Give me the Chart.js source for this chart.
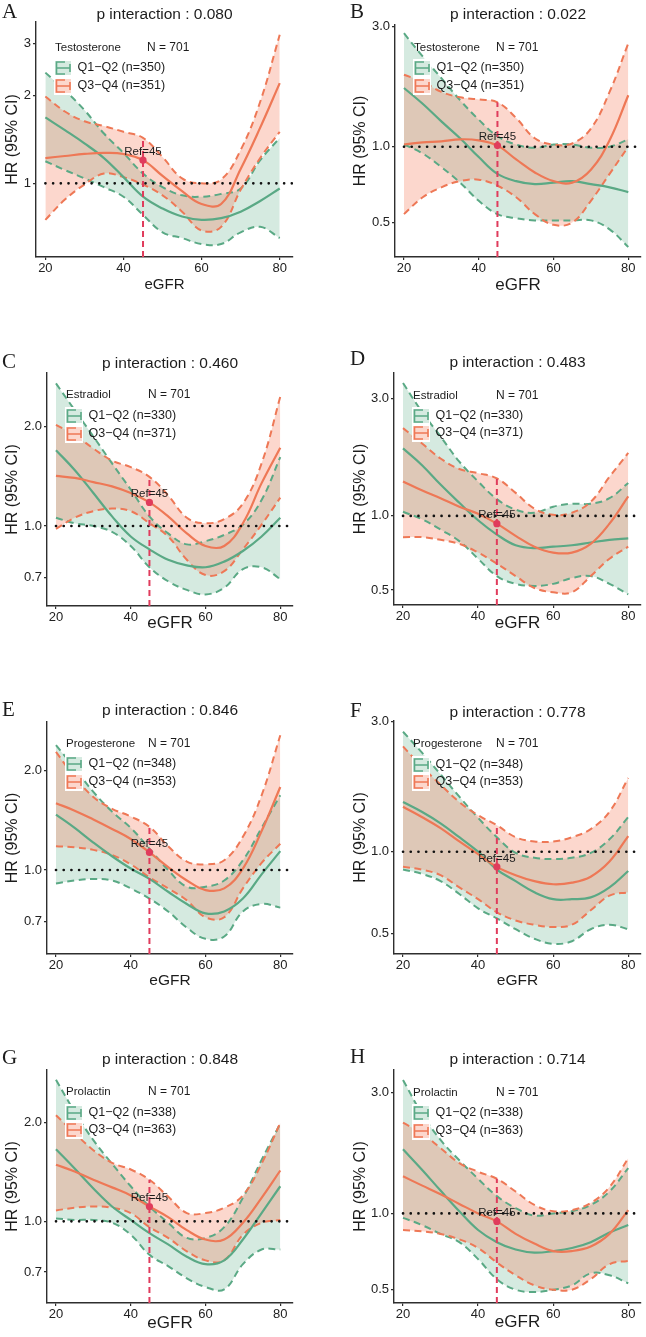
<!DOCTYPE html>
<html lang="en">
<head>
<meta charset="UTF-8">
<title>HR by eGFR, hormone subgroups</title>
<script src="https://cdn.jsdelivr.net/npm/chart.js@4.4.1/dist/chart.umd.min.js"></script>
<style>
  * { margin: 0; padding: 0; box-sizing: border-box; }
  body { width: 646px; height: 1337px; background: #fff; position: relative; overflow: hidden; }
  canvas { position: absolute; }
</style>
</head>
<body>
<script>
// ---- data ----
const eGFR = [20, 25, 30, 35, 40, 45, 50, 55, 60, 65, 70, 75, 80];
const refEGFR = 45;
const xTicks = [20, 40, 60, 80];
const panelLetters = ['A', 'B', 'C', 'D', 'E', 'F', 'G', 'H'];
const hormones = ['Testosterone', 'Testosterone', 'Estradiol', 'Estradiol', 'Progesterone', 'Progesterone', 'Prolactin', 'Prolactin'];
const pValues = ['0.080', '0.022', '0.460', '0.483', '0.846', '0.778', '0.848', '0.714'];
const totalN = 701;
const lowN = [350, 350, 330, 330, 348, 348, 338, 338];
const highN = [351, 351, 371, 371, 353, 353, 363, 363];
const yTicks = [[1, 2, 3], [0.5, 1, 3], [0.7, 1, 2], [0.5, 1, 3], [0.7, 1, 2], [0.5, 1, 3], [0.7, 1, 2], [0.5, 1, 3]];
const yTickLabels = [['1', '2', '3'], ['0.5', '1.0', '3.0'], ['0.7', '1.0', '2.0'], ['0.5', '1.0', '3.0'],
                     ['0.7', '1.0', '2.0'], ['0.5', '1.0', '3.0'], ['0.7', '1.0', '2.0'], ['0.5', '1.0', '3.0']];
const yMin = [0.56, 0.365, 0.572, 0.435, 0.558, 0.422, 0.563, 0.443];
const yMax = [3.56, 3.04, 2.915, 3.80, 2.795, 3.01, 2.90, 3.68];

// A - Testosterone
const q12HrA = [1.68, 1.52, 1.37, 1.22, 1.05, 0.90, 0.82, 0.77, 0.75, 0.76, 0.80, 0.87, 0.96];
const q12LoA = [1.19, 1.11, 1.04, 0.97, 0.90, 0.78, 0.68, 0.65, 0.62, 0.62, 0.68, 0.71, 0.65];
const q12HiA = [2.39, 2.08, 1.78, 1.48, 1.27, 1.08, 0.97, 0.91, 0.90, 0.92, 0.96, 1.20, 1.43];
const q34HrA = [1.22, 1.24, 1.26, 1.27, 1.26, 1.20, 1.06, 0.94, 0.85, 0.85, 1.12, 1.55, 2.20];
const q34LoA = [0.75, 0.88, 0.99, 1.08, 1.05, 0.99, 0.91, 0.80, 0.69, 0.71, 0.95, 1.22, 1.50];
const q34HiA = [1.98, 1.76, 1.63, 1.57, 1.50, 1.43, 1.23, 1.04, 1.00, 1.03, 1.30, 1.90, 3.22];
// B - Testosterone
const q12HrB = [1.71, 1.48, 1.26, 1.08, 0.91, 0.78, 0.73, 0.71, 0.72, 0.73, 0.71, 0.69, 0.66];
const q12LoB = [1.02, 0.94, 0.83, 0.72, 0.61, 0.54, 0.52, 0.51, 0.51, 0.51, 0.51, 0.47, 0.40];
const q12HiB = [2.82, 2.28, 1.87, 1.53, 1.28, 1.10, 1.02, 0.99, 1.02, 1.02, 0.99, 1.00, 1.07];
const q34HrB = [1.02, 1.04, 1.05, 1.07, 1.06, 1.01, 0.89, 0.79, 0.73, 0.72, 0.81, 1.06, 1.60];
const q34LoB = [0.54, 0.63, 0.69, 0.73, 0.74, 0.70, 0.63, 0.54, 0.49, 0.50, 0.61, 0.78, 1.00];
const q34HiB = [1.93, 1.81, 1.65, 1.57, 1.54, 1.50, 1.30, 1.08, 1.02, 1.03, 1.18, 1.65, 2.57];
// C - Estradiol
const q12HrC = [1.70, 1.48, 1.26, 1.07, 0.93, 0.85, 0.79, 0.76, 0.75, 0.78, 0.84, 0.93, 1.06];
const q12LoC = [1.06, 1.02, 1.00, 0.96, 0.87, 0.75, 0.68, 0.64, 0.62, 0.65, 0.74, 0.75, 0.69];
const q12HiC = [2.71, 2.25, 1.87, 1.55, 1.29, 1.07, 0.95, 0.88, 0.90, 0.94, 1.01, 1.20, 1.62];
const q34HrC = [1.42, 1.40, 1.36, 1.32, 1.26, 1.18, 1.07, 0.95, 0.87, 0.87, 1.02, 1.35, 1.73];
const q34LoC = [0.98, 1.06, 1.11, 1.13, 1.11, 1.02, 0.93, 0.79, 0.71, 0.73, 0.85, 1.01, 1.22];
const q34HiC = [2.03, 1.89, 1.72, 1.58, 1.51, 1.41, 1.24, 1.06, 1.02, 1.05, 1.17, 1.55, 2.47];
// D - Estradiol
const q12HrD = [1.88, 1.61, 1.34, 1.13, 0.96, 0.84, 0.76, 0.74, 0.75, 0.76, 0.78, 0.80, 0.81];
const q12LoD = [1.04, 0.97, 0.88, 0.79, 0.67, 0.57, 0.53, 0.52, 0.53, 0.56, 0.57, 0.53, 0.48];
const q12HiD = [3.46, 2.65, 2.10, 1.66, 1.38, 1.17, 1.06, 1.03, 1.09, 1.12, 1.12, 1.18, 1.36];
const q34HrD = [1.38, 1.27, 1.18, 1.09, 1.02, 0.93, 0.83, 0.75, 0.71, 0.71, 0.77, 0.93, 1.20];
const q34LoD = [0.82, 0.82, 0.80, 0.77, 0.71, 0.64, 0.57, 0.51, 0.49, 0.49, 0.57, 0.67, 0.75];
const q34HiD = [2.27, 1.97, 1.71, 1.55, 1.49, 1.42, 1.24, 1.07, 1.01, 1.03, 1.14, 1.44, 1.80];
// E - Progesterone
const q12HrE = [1.47, 1.34, 1.21, 1.10, 1.01, 0.94, 0.86, 0.79, 0.74, 0.75, 0.82, 0.97, 1.14];
const q12LoE = [0.91, 0.93, 0.94, 0.93, 0.88, 0.82, 0.75, 0.67, 0.62, 0.63, 0.75, 0.79, 0.77];
const q12HiE = [2.38, 2.03, 1.72, 1.50, 1.34, 1.16, 1.00, 0.89, 0.89, 0.93, 1.07, 1.34, 1.68];
const q34HrE = [1.59, 1.51, 1.42, 1.33, 1.24, 1.13, 1.02, 0.93, 0.87, 0.88, 1.01, 1.31, 1.78];
const q34LoE = [1.18, 1.17, 1.15, 1.11, 1.04, 0.95, 0.88, 0.81, 0.72, 0.72, 0.88, 1.05, 1.20];
const q34HiE = [2.27, 1.91, 1.66, 1.53, 1.45, 1.35, 1.18, 1.06, 1.04, 1.07, 1.26, 1.68, 2.55];
// F - Progesterone
const q12HrF = [1.52, 1.40, 1.27, 1.13, 1.00, 0.86, 0.78, 0.71, 0.67, 0.67, 0.68, 0.74, 0.85];
const q12LoF = [0.86, 0.83, 0.78, 0.70, 0.62, 0.57, 0.52, 0.48, 0.46, 0.47, 0.52, 0.54, 0.52];
const q12HiF = [2.75, 2.31, 1.92, 1.59, 1.33, 1.13, 0.99, 0.95, 0.94, 0.95, 0.99, 1.11, 1.34];
const q34HrF = [1.46, 1.34, 1.22, 1.09, 0.98, 0.88, 0.82, 0.78, 0.76, 0.77, 0.81, 0.92, 1.14];
const q34LoF = [0.88, 0.86, 0.82, 0.74, 0.67, 0.60, 0.56, 0.54, 0.53, 0.54, 0.61, 0.69, 0.71];
const q34HiF = [2.43, 2.05, 1.76, 1.52, 1.36, 1.25, 1.13, 1.09, 1.09, 1.13, 1.21, 1.40, 1.86];
// G - Prolactin
const q12HrG = [1.66, 1.45, 1.26, 1.11, 1.01, 0.92, 0.85, 0.78, 0.74, 0.76, 0.88, 1.06, 1.28];
const q12LoG = [1.02, 1.01, 1.01, 0.99, 0.91, 0.79, 0.73, 0.67, 0.63, 0.62, 0.74, 0.82, 0.82];
const q12HiG = [2.71, 2.16, 1.77, 1.50, 1.28, 1.11, 0.99, 0.89, 0.89, 0.96, 1.18, 1.54, 1.99];
const q34HrG = [1.49, 1.42, 1.34, 1.27, 1.20, 1.11, 1.03, 0.94, 0.88, 0.88, 0.99, 1.18, 1.43];
const q34LoG = [1.08, 1.10, 1.11, 1.10, 1.06, 0.96, 0.89, 0.81, 0.76, 0.76, 0.91, 0.99, 1.01];
const q34HiG = [2.11, 1.86, 1.65, 1.51, 1.44, 1.34, 1.19, 1.06, 1.06, 1.10, 1.20, 1.50, 2.00];
// H - Prolactin
const q12HrH = [1.79, 1.49, 1.23, 1.02, 0.86, 0.77, 0.72, 0.70, 0.71, 0.73, 0.77, 0.84, 0.90];
const q12LoH = [0.96, 0.90, 0.83, 0.77, 0.66, 0.55, 0.50, 0.49, 0.50, 0.52, 0.58, 0.57, 0.53];
const q12HiH = [3.36, 2.48, 1.95, 1.62, 1.37, 1.17, 1.05, 0.98, 1.00, 1.02, 1.08, 1.22, 1.51];
const q34HrH = [1.40, 1.29, 1.19, 1.09, 1.00, 0.93, 0.83, 0.76, 0.71, 0.71, 0.74, 0.83, 1.03];
const q34LoH = [0.86, 0.85, 0.83, 0.79, 0.73, 0.64, 0.57, 0.52, 0.50, 0.50, 0.55, 0.63, 0.65];
const q34HiH = [2.28, 2.07, 1.81, 1.58, 1.46, 1.37, 1.22, 1.08, 1.02, 1.03, 1.10, 1.27, 1.65];

const curves = [
  [q12HrA, q12LoA, q12HiA, q34HrA, q34LoA, q34HiA],
  [q12HrB, q12LoB, q12HiB, q34HrB, q34LoB, q34HiB],
  [q12HrC, q12LoC, q12HiC, q34HrC, q34LoC, q34HiC],
  [q12HrD, q12LoD, q12HiD, q34HrD, q34LoD, q34HiD],
  [q12HrE, q12LoE, q12HiE, q34HrE, q34LoE, q34HiE],
  [q12HrF, q12LoF, q12HiF, q34HrF, q34LoF, q34HiF],
  [q12HrG, q12LoG, q12HiG, q34HrG, q34LoG, q34HiG],
  [q12HrH, q12LoH, q12HiH, q34HrH, q34LoH, q34HiH]
];

// ---- layout (page pixels) ----
const layout = [
  { left: 0,   top: 0,    h: 330, area: [36, 22, 293, 257],    titleY: 15,   letterY: 12,   xlabDy: 28, xlabSize: 15,   nDx: 111, legY: [26, 46, 64] },
  { left: 323, top: 0,    h: 330, area: [395, 25, 641, 257],   titleY: 15,   letterY: 12,   xlabDy: 28, xlabSize: 17,   nDx: 101, legY: [23, 43, 61] },
  { left: 0,   top: 330,  h: 335, area: [47, 373, 293, 606],   titleY: 364,  letterY: 362,  xlabDy: 17, xlabSize: 17,   nDx: 101, legY: [22, 43, 61] },
  { left: 323, top: 330,  h: 335, area: [394, 373, 641, 605],  titleY: 363,  letterY: 359,  xlabDy: 18, xlabSize: 17,   nDx: 102, legY: [23, 43, 60] },
  { left: 0,   top: 665,  h: 335, area: [47, 722, 293, 954],   titleY: 711,  letterY: 710,  xlabDy: 27, xlabSize: 15.5, nDx: 101, legY: [22, 42, 60] },
  { left: 323, top: 665,  h: 335, area: [394, 721, 641, 954],  titleY: 713,  letterY: 711,  xlabDy: 27, xlabSize: 15.5, nDx: 102, legY: [23, 44, 61] },
  { left: 0,   top: 1000, h: 337, area: [47, 1070, 293, 1303], titleY: 1060, letterY: 1058, xlabDy: 20, xlabSize: 17,   nDx: 101, legY: [22, 43, 60] },
  { left: 323, top: 1000, h: 337, area: [394, 1070, 641, 1303],titleY: 1060, letterY: 1057, xlabDy: 19, xlabSize: 17,   nDx: 102, legY: [23, 43, 61] }
];

const SANS = '"Liberation Sans", Arial, sans-serif';
const SERIF = '"Liberation Serif", "Times New Roman", serif';
const GREEN = '#5aa985';
const ORANGE = '#ee7856';
const GREEN_FILL = 'rgba(92,172,134,0.26)';
const ORANGE_FILL = 'rgba(246,122,88,0.30)';
const REF_RED = '#e03c5c';
const AXIS = '#2e2e2e';

function drawKey(ctx, x, y, line, fill) {
  ctx.fillStyle = '#fff';
  ctx.fillRect(x - 1, y - 9, 18, 18);
  ctx.fillStyle = fill;
  ctx.fillRect(x, y - 7, 16, 14);
  ctx.strokeStyle = line;
  ctx.lineWidth = 1.6;
  ctx.setLineDash([]);
  ctx.beginPath();
  ctx.moveTo(x + 10, y - 6); ctx.lineTo(x + 1.5, y - 6); ctx.lineTo(x + 1.5, y + 6); ctx.lineTo(x + 10, y + 6);
  ctx.moveTo(x + 1.5, y); ctx.lineTo(x + 15, y);
  ctx.moveTo(x + 15, y - 4); ctx.lineTo(x + 15, y + 4);
  ctx.stroke();
}

function textPlugin(i, lay) {
  return {
    id: 'panelText' + i,
    afterDraw(chart) {
      const { ctx, chartArea: a, scales } = chart;
      const ox = lay.left, oy = lay.top;
      const rightCol = lay.left > 0;
      ctx.save();
      ctx.fillStyle = '#1c1c1c';
      ctx.textBaseline = 'middle';

      ctx.font = `21px ${SERIF}`;
      ctx.textAlign = 'left';
      ctx.fillText(panelLetters[i], (rightCol ? 350 : 2) - ox, lay.letterY - oy);

      ctx.textAlign = 'center';
      ctx.font = `15.5px ${SANS}`;
      ctx.fillText('p interaction : ' + pValues[i], (a.left + a.right) / 2, lay.titleY - oy);

      ctx.font = `${lay.xlabSize}px ${SANS}`;
      ctx.fillText('eGFR', (a.left + a.right) / 2, a.bottom + lay.xlabDy);

      ctx.save();
      ctx.translate((rightCol ? 361 : 13) - ox, (a.top + a.bottom) / 2);
      ctx.rotate(-Math.PI / 2);
      ctx.font = `16px ${SANS}`;
      ctx.fillText('HR (95% CI)', 0, 0);
      ctx.restore();

      // legend
      ctx.textAlign = 'left';
      ctx.font = `11.5px ${SANS}`;
      ctx.fillText(hormones[i], a.left + 19, a.top + lay.legY[0]);
      ctx.font = `12px ${SANS}`;
      ctx.fillText('N = ' + totalN, a.left + lay.nDx, a.top + lay.legY[0]);
      drawKey(ctx, a.left + 19, a.top + lay.legY[1], GREEN, GREEN_FILL);
      drawKey(ctx, a.left + 19, a.top + lay.legY[2], ORANGE, ORANGE_FILL);
      ctx.fillStyle = '#1c1c1c';
      ctx.font = `12.5px ${SANS}`;
      ctx.fillText('Q1\u2212Q2 (n=' + lowN[i] + ')', a.left + 41.5, a.top + lay.legY[1]);
      ctx.fillText('Q3\u2212Q4 (n=' + highN[i] + ')', a.left + 41.5, a.top + lay.legY[2]);

      // reference label
      const k = eGFR.indexOf(refEGFR);
      const px = scales.x.getPixelForValue(refEGFR);
      const py = scales.y.getPixelForValue(curves[i][3][k]);
      ctx.textAlign = 'center';
      ctx.font = `11.5px ${SANS}`;
      ctx.fillText('Ref=' + refEGFR, px, py - 8.5);
      ctx.restore();
    }
  };
}

function makePanel(i) {
  const lay = layout[i];
  const [hr1, lo1, hi1, hr2, lo2, hi2] = curves[i];
  const [L, T, R, B] = lay.area;
  const canvas = document.createElement('canvas');
  canvas.width = 323;
  canvas.height = lay.h;
  canvas.style.left = lay.left + 'px';
  canvas.style.top = lay.top + 'px';
  document.body.appendChild(canvas);

  const xMin = 17.6, xMax = 83.4;
  const yAxisW = L - lay.left;
  const xAxisH = lay.top + lay.h - B;
  const pts = arr => eGFR.map((x, k) => ({ x, y: arr[k] }));
  const k45 = eGFR.indexOf(refEGFR);
  const bound = (arr, color, fill, order) => ({
    data: pts(arr), borderColor: color, borderWidth: 2, borderDash: [7, 4.5],
    fill: fill ? '+1' : false, backgroundColor: fill || 'transparent',
    pointRadius: 0, tension: 0.4, order
  });
  const est = (arr, color, order) => ({
    data: pts(arr), borderColor: color, borderWidth: 2.2, fill: false,
    pointRadius: 0, tension: 0.4, order
  });

  const datasets = [
    bound(hi1, GREEN, GREEN_FILL, 8),
    bound(lo1, GREEN, null, 8),
    bound(hi2, ORANGE, ORANGE_FILL, 6),
    bound(lo2, ORANGE, null, 6),
    est(hr1, GREEN, 5),
    est(hr2, ORANGE, 4),
    { data: [{ x: 20, y: 1 }, { x: xMax, y: 1 }], borderColor: '#111', borderWidth: 2.6,
      borderDash: [0.1, 7.6], borderCapStyle: 'round', pointRadius: 0, fill: false, order: 3 },
    { data: [{ x: refEGFR, y: yMin[i] }, { x: refEGFR, y: hi2[k45] }], borderColor: REF_RED, borderWidth: 2,
      borderDash: [6, 4], pointRadius: 0, fill: false, order: 2 },
    { data: [{ x: refEGFR, y: hr2[k45] }], showLine: false, pointRadius: 3.6, pointBorderWidth: 0,
      pointBackgroundColor: REF_RED, order: 1 }
  ];

  const tickFont = { family: SANS, size: 13 };
  new Chart(canvas.getContext('2d'), {
    type: 'line',
    data: { datasets },
    options: {
      responsive: false,
      animation: false,
      events: [],
      layout: { padding: { left: 0, top: T - lay.top, right: lay.left + 323 - R, bottom: 0 } },
      plugins: { legend: { display: false }, tooltip: { enabled: false }, title: { display: false },
                 filler: { drawTime: 'beforeDatasetsDraw' } },
      scales: {
        x: {
          type: 'linear', min: xMin, max: xMax,
          afterBuildTicks: s => { s.ticks = xTicks.map(v => ({ value: v })); },
          afterFit: s => { s.height = xAxisH; s.paddingLeft = 0; s.paddingRight = 0; },
          grid: { drawOnChartArea: false, drawTicks: true, tickLength: 3, color: AXIS, lineWidth: 1.2 },
          border: { display: true, color: AXIS, width: 1.4 },
          ticks: { color: '#222', font: tickFont, padding: 1, maxRotation: 0, autoSkip: false }
        },
        y: {
          type: 'logarithmic', min: yMin[i], max: yMax[i],
          afterBuildTicks: s => { s.ticks = yTicks[i].map(v => ({ value: v })); },
          afterFit: s => { s.width = yAxisW; s.paddingTop = 0; s.paddingBottom = 0; },
          grid: { drawOnChartArea: false, drawTicks: true, tickLength: 3, color: AXIS, lineWidth: 1.2 },
          border: { display: true, color: AXIS, width: 1.4 },
          ticks: { color: '#222', font: tickFont, padding: 2, autoSkip: false,
                   callback: (v, idx) => yTickLabels[i][idx] }
        }
      }
    },
    plugins: [textPlugin(i, lay)]
  });
}

for (let i = 0; i < 8; i++) makePanel(i);
</script>
</body>
</html>
